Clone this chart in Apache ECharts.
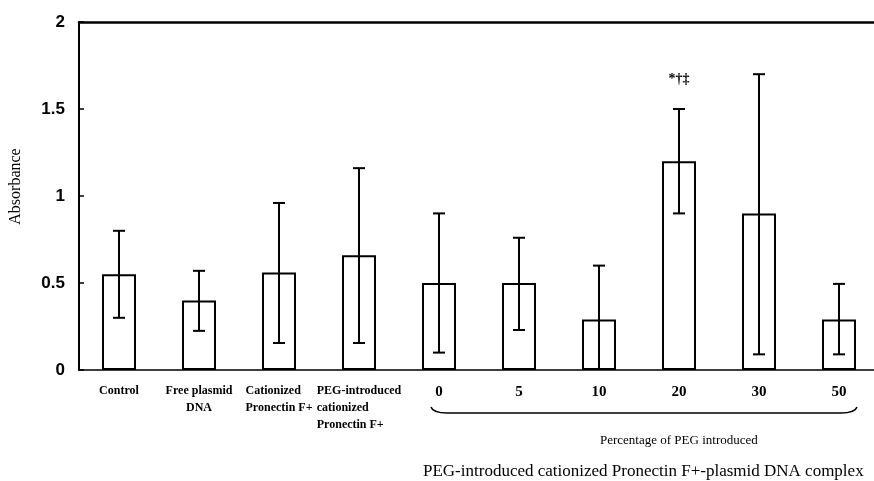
<!DOCTYPE html>
<html>
<head>
<meta charset="utf-8">
<script src="https://cdn.jsdelivr.net/npm/echarts@6/dist/echarts.min.js"></script>
<style>
  html, body { margin: 0; padding: 0; background: #fff; }
  #main { width: 874px; height: 481px; }
</style>
</head>
<body>
<div id="main"></div>
<script>
// categories and values
var categories = ['Control', 'Free plasmid\nDNA', 'Cationized\nPronectin F+',
    'PEG-introduced\ncationized\nPronectin F+', '0', '5', '10', '20', '30', '50'];
var means = [0.55, 0.40, 0.56, 0.66, 0.50, 0.50, 0.29, 1.20, 0.90, 0.29];
var errLow = [0.30, 0.225, 0.155, 0.155, 0.10, 0.23, 0.0, 0.90, 0.09, 0.09];
var errHigh = [0.80, 0.57, 0.96, 1.16, 0.90, 0.76, 0.60, 1.50, 1.70, 0.495];
var marks = ['', '', '', '', '', '', '', '*\u2020\u2021', '', ''];
var yTicks = [0, 0.5, 1, 1.5, 2];

var serif = '"Liberation Serif", "Times New Roman", serif';
var sans = '"Liberation Sans", Arial, sans-serif';

var myChart = echarts.init(document.getElementById('main'));

var errData = [];
for (var i = 0; i < categories.length; i++) {
    errData.push([i, errLow[i], errHigh[i], marks[i]]);
}

var option = {
    animation: false,
    grid: { left: 79, top: 22, width: 800, height: 348, outerBoundsMode: 'none' },
    xAxis: [{
        type: 'category',
        data: categories,
        axisLine: { lineStyle: { color: '#000', width: 1.5 } },
        axisTick: { show: false },
        axisLabel: {
            interval: 0,
            margin: 12,
            color: '#000',
            formatter: function (val, idx) {
                if (idx == 2 || idx == 3) {
                    return val.split('\n').map(function (s) { return '{l|' + s + '}'; }).join('\n');
                }
                if (idx >= 4) return '{n|' + val + '}';
                return '{c|' + val.split('\n').join('}\n{c|') + '}';
            },
            rich: {
                l: { fontFamily: serif, fontWeight: 'bold', fontSize: 12, lineHeight: 17, align: 'left' },
                c: { fontFamily: serif, fontWeight: 'bold', fontSize: 12, lineHeight: 17, align: 'center' },
                n: { fontFamily: serif, fontWeight: 'bold', fontSize: 15, lineHeight: 17, padding: [4, 0, 0, 0] }
            }
        }
    }, {
        type: 'category',
        position: 'top',
        data: categories,
        axisLine: { lineStyle: { color: '#000', width: 2.5 } },
        axisTick: { show: false },
        axisLabel: { show: false }
    }],
    yAxis: {
        type: 'value',
        min: yTicks[0],
        max: yTicks[yTicks.length - 1],
        interval: 0.5,
        name: 'Absorbance',
        nameLocation: 'middle',
        nameGap: 55,
        nameTextStyle: { fontFamily: serif, fontSize: 16, color: '#000', padding: [0, 0, 0, 19] },
        axisLine: { show: true, lineStyle: { color: '#000', width: 2 } },
        axisTick: { show: true, inside: true, length: 5, lineStyle: { color: '#000', width: 1.5 } },
        splitLine: { show: false },
        axisLabel: {
            margin: 14,
            color: '#000',
            fontFamily: sans,
            fontWeight: 'bold',
            fontSize: 17
        }
    },
    series: [{
        type: 'bar',
        data: means,
        barWidth: 34,
        itemStyle: { color: '#fff', borderColor: '#000', borderWidth: 2 }
    }, {
        type: 'custom',
        data: errData,
        z: 10,
        renderItem: function (params, api) {
            var x = api.value(0);
            var lo = api.coord([x, api.value(1)]);
            var hi = api.coord([x, api.value(2)]);
            var cap = 6;
            var st = { stroke: '#000', lineWidth: 2 };
            var kids = [
                { type: 'line', shape: { x1: lo[0], y1: lo[1], x2: hi[0], y2: hi[1] }, style: st },
                { type: 'line', shape: { x1: hi[0] - cap, y1: hi[1], x2: hi[0] + cap, y2: hi[1] }, style: st }
            ];
            if (api.value(1) > 0) {
                kids.push({ type: 'line', shape: { x1: lo[0] - cap, y1: lo[1], x2: lo[0] + cap, y2: lo[1] }, style: st });
            }
            var m = errData[params.dataIndex][3];
            if (m) {
                kids.push({
                    type: 'text',
                    style: {
                        text: m, x: hi[0], y: hi[1] - 30, align: 'center', verticalAlign: 'middle',
                        font: 'bold 14px ' + serif, fill: '#000'
                    }
                });
            }
            return { type: 'group', children: kids };
        }
    }]
};
myChart.setOption(option);

// brace under the PEG percentage groups, placed from the axis positions
var p0 = myChart.convertToPixel({ xAxisIndex: 0 }, '0');
var p50 = myChart.convertToPixel({ xAxisIndex: 0 }, '50');
var bl = p0 - 8, br = p50 + 18, by = 413;
var braceStyle = { stroke: '#000', lineWidth: 1.5, fill: null };
myChart.setOption({
    graphic: [{
        type: 'bezierCurve',
        shape: { x1: bl, y1: by - 6, cpx1: bl + 2, cpy1: by, x2: bl + 16, y2: by },
        style: braceStyle
    }, {
        type: 'line',
        shape: { x1: bl + 16, y1: by, x2: br - 16, y2: by },
        style: braceStyle
    }, {
        type: 'bezierCurve',
        shape: { x1: br - 16, y1: by, cpx1: br - 2, cpy1: by, x2: br, y2: by - 6 },
        style: braceStyle
    }, {
        type: 'text',
        left: 600, top: 434,
        style: { text: 'Percentage of PEG introduced', font: '13px ' + serif, fill: '#000' }
    }, {
        type: 'text',
        left: 423, top: 463,
        style: { text: 'PEG-introduced cationized Pronectin F+-plasmid DNA complex', font: '17px ' + serif, fill: '#000' }
    }]
});
</script>
</body>
</html>
